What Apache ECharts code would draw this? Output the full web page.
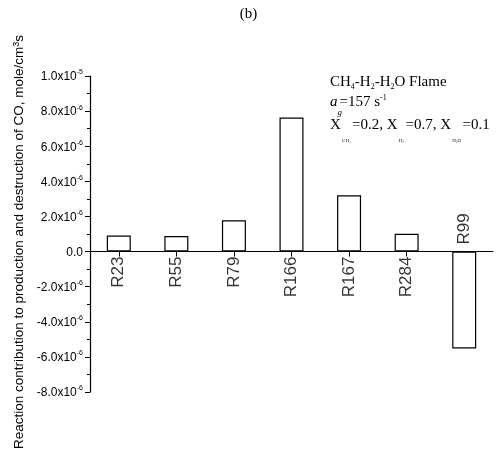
<!DOCTYPE html>
<html>
<head>
<meta charset="utf-8">
<script src="https://cdn.jsdelivr.net/npm/echarts@6/dist/echarts.min.js"></script>
<style>
  html, body { margin: 0; padding: 0; background: #fff; }
  #chart { width: 497px; height: 452px; }
</style>
</head>
<body>
<div id="chart"></div>
<script>
// Reactions contributing to CO production (+) and destruction (-)
const reactions = ['R23', 'R55', 'R79', 'R166', 'R167', 'R284', 'R99'];
const contribution = [0.91e-6, 0.88e-6, 1.78e-6, 7.63e-6, 3.21e-6, 1.01e-6, -5.52e-6];

// Value axis range (mole/cm^3 s)
const yMin = -8e-6;
const yMax = 1e-5;
const yStep = 2e-6;

const sans = 'Liberation Sans, Arial, sans-serif';
const serif = 'Liberation Serif, Times New Roman, serif';

// "8.0x10^-6" style tick labels with a raised exponent
function sciLabel(v) {
  if (Math.abs(v) < 1e-12) return '{n|0.0}';
  const exp = Math.floor(Math.log10(Math.abs(v)) + 1e-9);
  const mant = (v / Math.pow(10, exp)).toFixed(1);
  return '{n|' + mant + 'x10}{e|' + exp + '}';
}

// rich-text token styles for the annotation (token box height sets the shift)
function tok(size, height, extra) {
  return Object.assign({
    fontFamily: serif, fontSize: size, height: height, lineHeight: height,
    verticalAlign: 'top', fill: '#000'
  }, extra || {});
}

const chart = echarts.init(document.getElementById('chart'), null, { renderer: 'canvas' });

chart.setOption({
  backgroundColor: '#ffffff',
  animation: false,
  title: {
    text: '(b)',
    left: 'center',
    top: 2,
    textStyle: { fontFamily: serif, fontSize: 15, fontWeight: 'normal', color: '#000' }
  },
  grid: { left: 90, right: 4, top: 76, bottom: 60, containLabel: false },
  xAxis: {
    type: 'category',
    data: reactions,
    boundaryGap: true,
    axisLine: { onZero: true, lineStyle: { color: '#000', width: 1.2 } },
    axisTick: { show: true, alignWithLabel: true, inside: false, length: 5, lineStyle: { color: '#000' } },
    axisLabel: { show: false },
    splitLine: { show: false }
  },
  yAxis: {
    type: 'value',
    min: yMin,
    max: yMax,
    interval: yStep,
    name: 'Reaction contribution to production and destruction of CO, mole/cm{s|3}s',
    nameLocation: 'middle',
    nameGap: 52,
    nameRotate: 90,
    nameTextStyle: {
      fontFamily: sans, fontSize: 13.5, color: '#000',
      padding: [0, 0, 0, -16],
      rich: {
        s: { fontFamily: sans, fontSize: 9, lineHeight: 9, verticalAlign: 'top', color: '#000' }
      }
    },
    axisLine: { show: true, onZero: false, lineStyle: { color: '#000', width: 1.2 } },
    axisTick: { show: true, inside: false, length: 5, lineStyle: { color: '#000' } },
    minorTick: { show: true, splitNumber: 2, length: 3, lineStyle: { color: '#000' } },
    splitLine: { show: false },
    axisLabel: {
      margin: 7,
      formatter: sciLabel,
      rich: {
        n: { fontFamily: sans, fontSize: 12, lineHeight: 14, verticalAlign: 'bottom', color: '#000' },
        e: { fontFamily: sans, fontSize: 7, lineHeight: 7, verticalAlign: 'top', color: '#000' }
      }
    }
  },
  series: [
    {
      type: 'bar',
      data: contribution,
      barWidth: 24,
      itemStyle: { color: '#ffffff', borderColor: '#000', borderWidth: 1.2 },
      silent: true
    },
    {
      // Reaction names written vertically next to the zero line
      type: 'scatter',
      symbolSize: 0,
      silent: true,
      z: 5,
      data: reactions.map((name, i) => {
        const below = contribution[i] >= 0;
        return {
          value: 0,
          label: {
            align: below ? 'right' : 'left',
            padding: below ? [0, 5, 0, 0] : [0, 0, 0, 7]
          }
        };
      }),
      label: {
        show: true,
        position: 'inside',
        rotate: 90,
        verticalAlign: 'middle',
        fontFamily: sans,
        fontSize: 17,
        color: '#000',
        formatter: p => reactions[p.dataIndex]
      }
    }
  ],
  graphic: [
    {
      type: 'text', left: 330, top: 74, silent: true,
      style: {
        text: '{m|CH}{s|4}{m|-H}{s|2}{m|-H}{s|2}{m|O Flame}',
        rich: { m: tok(15, 16), s: tok(8, 25) }
      }
    },
    {
      type: 'text', left: 330, top: 94, silent: true,
      style: {
        text: '{i|a}{g|g}{m|=157 s}{p|-1}',
        rich: {
          i: tok(15, 16, { fontStyle: 'italic' }),
          g: tok(9, 37, { fontStyle: 'italic', width: 2 }),
          m: tok(15, 16),
          p: tok(8, 8)
        }
      }
    },
    {
      type: 'text', left: 330, top: 117, silent: true,
      style: {
        text: '{m|X}{t| CH₄ }{m|=0.2, X}{t| H₂ }{m|=0.7, X}{t| H₂O }{m|=0.1}',
        rich: { m: tok(15, 16), t: tok(5, 48) }
      }
    }
  ]
});
</script>
</body>
</html>
